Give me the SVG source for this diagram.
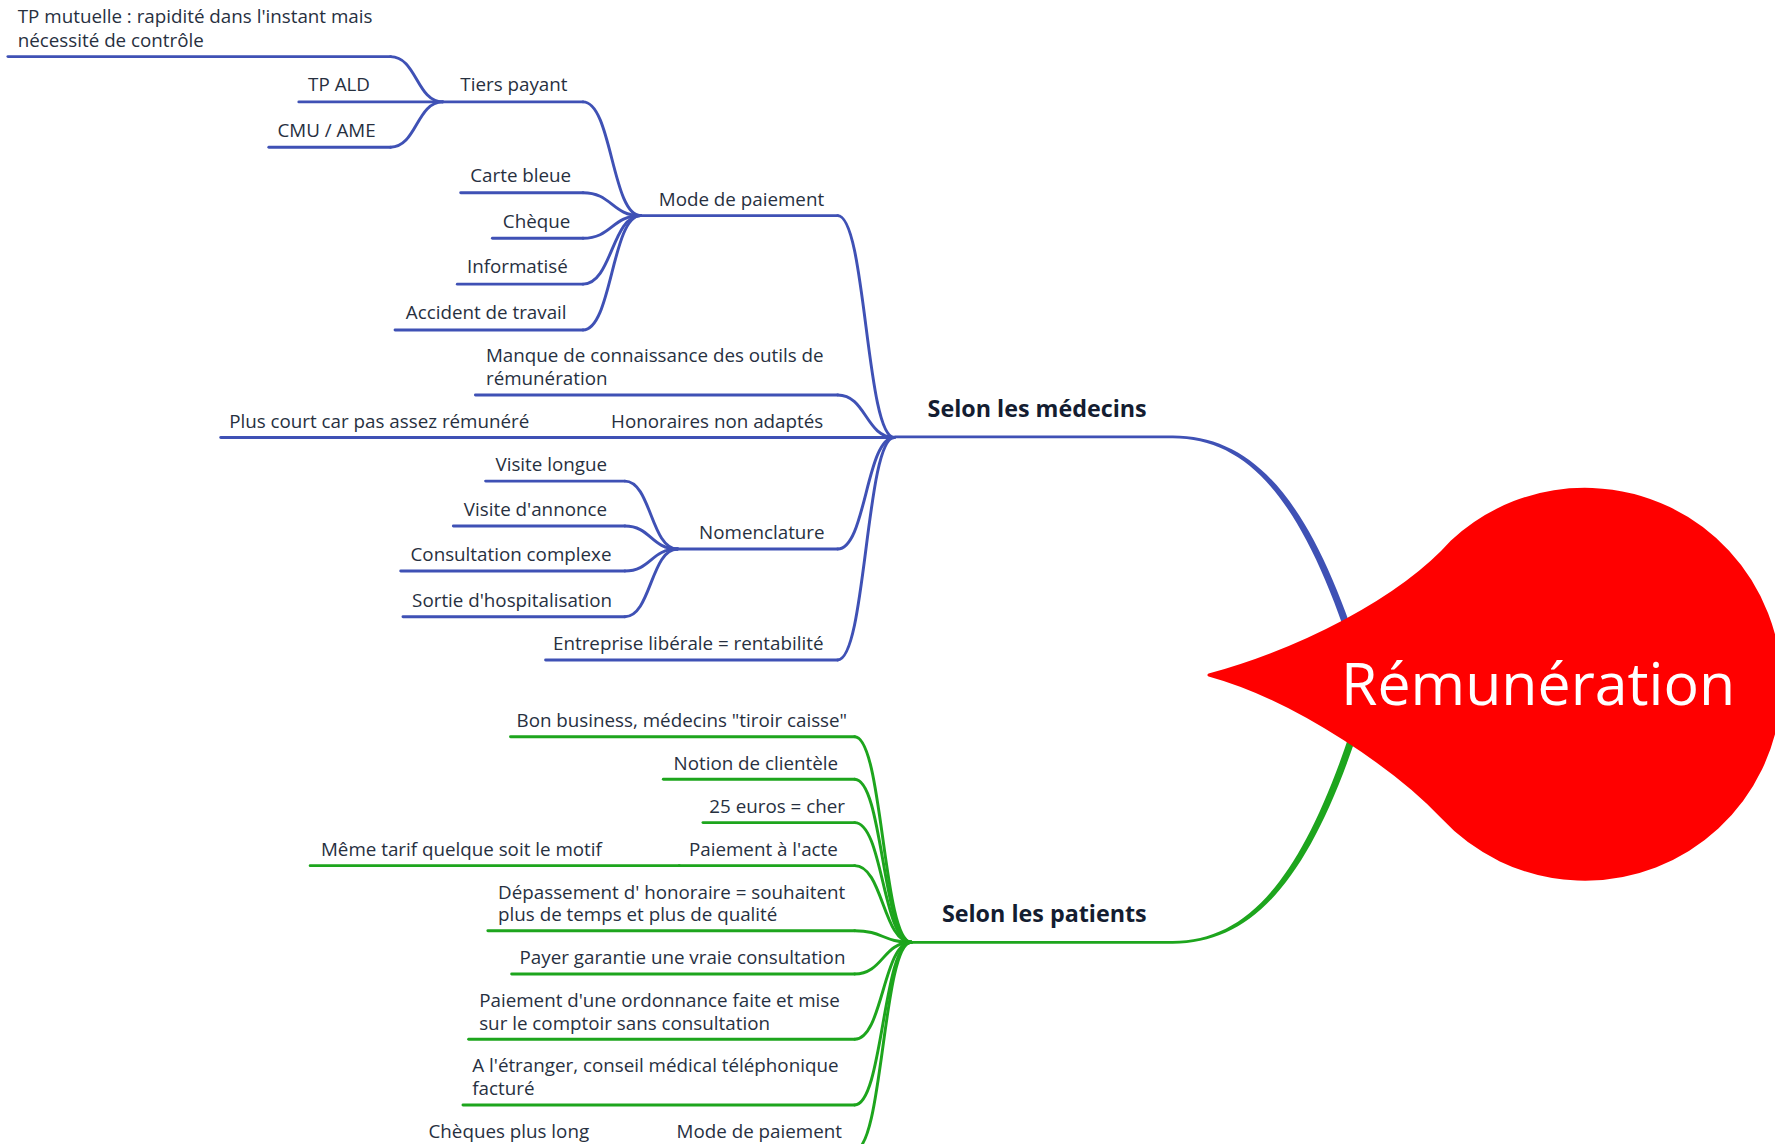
<svg xmlns="http://www.w3.org/2000/svg" width="1775" height="1144" viewBox="0 0 1775 1144">
<style>
.b{fill:none;stroke:#3f51b5;stroke-width:2.6;stroke-linecap:round}
.g{fill:none;stroke:#1da51d;stroke-width:2.6;stroke-linecap:round}
.t{font-family:"Open Sans","Liberation Sans",sans-serif;font-size:16.6px;fill:#27303f}
.m{text-anchor:middle}
.e{text-anchor:end}
.h{font-family:"Open Sans","Liberation Sans",sans-serif;font-size:20.6px;font-weight:bold;fill:#141d31}
</style>
<rect width="1775" height="1144" fill="#ffffff"/>
<g transform="scale(1.132)">
<g id="connectors">
<path d="M790 384.8H1036C1112 384.8 1163 449 1208 599L1202 601C1157 451 1108 387.2 1036 387.2H790Z" fill="#3f51b5"/>
<path d="M805 831.2H1036C1108 831.2 1157 766 1202 618L1208 620C1163 768 1112 833.6 1036 833.6H805Z" fill="#1da51d"/>
<path class="b" d="M740 190.5C765 190.5 765 386.5 790 386.5"/>
<path class="b" d="M740 349C765 349 765 386.5 790 386.5"/>
<path class="b" d="M740 485C765 485 765 386.5 790 386.5"/>
<path class="b" d="M740 583C765 583 765 386.5 790 386.5"/>
<path class="b" d="M515 90C540.5 90 540.5 190.5 566 190.5"/>
<path class="b" d="M515 170.2C540.5 170.2 540.5 190.5 566 190.5"/>
<path class="b" d="M515 210.5C540.5 210.5 540.5 190.5 566 190.5"/>
<path class="b" d="M515 251C540.5 251 540.5 190.5 566 190.5"/>
<path class="b" d="M515 291.5C540.5 291.5 540.5 190.5 566 190.5"/>
<path class="b" d="M345 50C368 50 368 90 391 90"/>
<path class="b" d="M345 130C368 130 368 90 391 90"/>
<path class="b" d="M552 425C575 425 575 485 598.5 485"/>
<path class="b" d="M552 464.7C575 464.7 575 485 598.5 485"/>
<path class="b" d="M552 504.4C575 504.4 575 485 598.5 485"/>
<path class="b" d="M552 544.8C575 544.8 575 485 598.5 485"/>
<path class="g" d="M755 650.8C780 650.8 780 832.4 805 832.4"/>
<path class="g" d="M755 688.4C780 688.4 780 832.4 805 832.4"/>
<path class="g" d="M755 726.7C780 726.7 780 832.4 805 832.4"/>
<path class="g" d="M755 764.7C780 764.7 780 832.4 805 832.4"/>
<path class="g" d="M755 822.2C780 822.2 780 832.4 805 832.4"/>
<path class="g" d="M755 860.4C780 860.4 780 832.4 805 832.4"/>
<path class="g" d="M755 918.1C780 918.1 780 832.4 805 832.4"/>
<path class="g" d="M755 976.1C780 976.1 780 832.4 805 832.4"/>
<path class="g" d="M755 1016C780 1016 780 832.4 805 832.4"/>
</g>
<g id="selon-medecins"><text class="h e" x="1013" y="368.5">Selon les médecins</text></g>
<g id="mode-paiement"><path class="b" d="M566 190.5H740"/><text class="t m" x="655" y="181.6">Mode de paiement</text></g>
<g id="tiers-payant"><path class="b" d="M391 90H515"/><text class="t m" x="454" y="80.8">Tiers payant</text></g>
<g id="tp-mutuelle"><path class="b" d="M7 50H345"/><text class="t" x="15.7" y="20.5">TP mutuelle : rapidité dans l'instant mais</text><text class="t" x="15.7" y="41.1">nécessité de contrôle</text></g>
<g id="tp-ald"><path class="b" d="M264 90H391"/><text class="t m" x="299.5" y="80.8">TP ALD</text></g>
<g id="cmu-ame"><path class="b" d="M237.5 130H345"/><text class="t m" x="288.5" y="120.6">CMU / AME</text></g>
<g id="carte-bleue"><path class="b" d="M407 170.2H515"/><text class="t m" x="460" y="161">Carte bleue</text></g>
<g id="cheque"><path class="b" d="M435 210.5H515"/><text class="t m" x="474" y="201.6">Chèque</text></g>
<g id="informatise"><path class="b" d="M404 251H515"/><text class="t m" x="457" y="241.4">Informatisé</text></g>
<g id="accident"><path class="b" d="M349 291.5H515"/><text class="t m" x="429.5" y="281.8">Accident de travail</text></g>
<g id="manque"><path class="b" d="M420 349H740"/><text class="t" x="429.3" y="320">Manque de connaissance des outils de</text><text class="t" x="429.3" y="340">rémunération</text></g>
<g id="honoraires"><path class="b" d="M541 386.5H790"/><text class="t m" x="633.5" y="377.7">Honoraires non adaptés</text></g>
<g id="plus-court"><path class="b" d="M195 386.5H541"/><text class="t m" x="335" y="377.7">Plus court car pas assez rémunéré</text></g>
<g id="nomenclature"><path class="b" d="M598.5 485H740"/><text class="t m" x="673" y="476">Nomenclature</text></g>
<g id="visite-longue"><path class="b" d="M429 425H552"/><text class="t m" x="487" y="415.7">Visite longue</text></g>
<g id="visite-annonce"><path class="b" d="M400.5 464.7H552"/><text class="t m" x="473" y="455.8">Visite d'annonce</text></g>
<g id="consultation-complexe"><path class="b" d="M354 504.4H552"/><text class="t m" x="451.4" y="496">Consultation complexe</text></g>
<g id="sortie"><path class="b" d="M356 544.8H552"/><text class="t m" x="452.4" y="535.8">Sortie d'hospitalisation</text></g>
<g id="entreprise"><path class="b" d="M482 583H740"/><text class="t m" x="608" y="574">Entreprise libérale = rentabilité</text></g>
<g id="selon-patients"><text class="h e" x="1013" y="814.5">Selon les patients</text></g>
<g id="bon-business"><path class="g" d="M451 650.8H755"/><text class="t m" x="602.3" y="642.4">Bon business, médecins "tiroir caisse"</text></g>
<g id="notion"><path class="g" d="M586 688.4H755"/><text class="t m" x="667.7" y="680">Notion de clientèle</text></g>
<g id="euros"><path class="g" d="M621 726.7H755"/><text class="t m" x="686.5" y="717.8">25 euros = cher</text></g>
<g id="paiement-acte"><path class="g" d="M600 764.7H755"/><text class="t m" x="674.4" y="755.8">Paiement à l'acte</text></g>
<g id="meme-tarif"><path class="g" d="M274 764.7H600"/><text class="t m" x="407.6" y="755.8">Même tarif quelque soit le motif</text></g>
<g id="depassement"><path class="g" d="M431 822.2H755"/><text class="t" x="440" y="793.8">Dépassement d' honoraire = souhaitent</text><text class="t" x="440" y="814">plus de temps et plus de qualité</text></g>
<g id="payer"><path class="g" d="M452 860.4H755"/><text class="t m" x="602.9" y="851.5">Payer garantie une vraie consultation</text></g>
<g id="ordonnance"><path class="g" d="M414 918.1H755"/><text class="t" x="423.3" y="889.8">Paiement d'une ordonnance faite et mise</text><text class="t" x="423.3" y="909.8">sur le comptoir sans consultation</text></g>
<g id="etranger"><path class="g" d="M409 976.1H755"/><text class="t" x="417.2" y="947.2">A l'étranger, conseil médical téléphonique</text><text class="t" x="417.2" y="967.2">facturé</text></g>
<g id="mode-paiement-p"><path class="g" d="M590 1016H755"/><text class="t m" x="670.7" y="1005.5">Mode de paiement</text></g>
<g id="cheques-long"><text class="t m" x="449.5" y="1005.5">Chèques plus long</text></g>
</g>
<g id="remuneration">
<path d="M1209 675C1300 650 1400 600 1452.3 541.3A195 195 0 1 1 1441.7 816.6C1401 773 1300 700 1209 675Z" fill="#ff0000" stroke="#ff0000" stroke-width="3" stroke-linejoin="round"/>
<text x="1341" y="705" font-family="'Open Sans','Liberation Sans',sans-serif" font-size="59" fill="#ffffff">Rémunération</text>
</g>
</svg>
